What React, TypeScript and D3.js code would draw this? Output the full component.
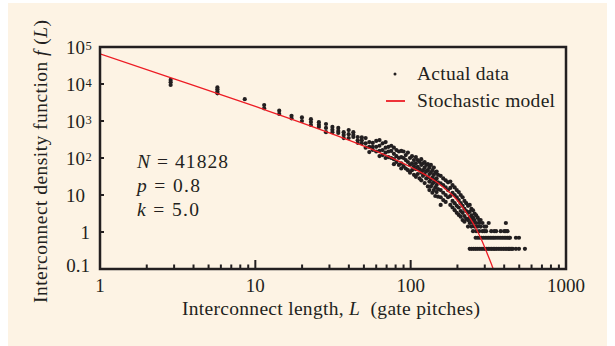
import React from "react";
import * as d3 from "d3";

const W = 615;
const H = 346;
const ink = "#231f20";
const red = "#ed1c24";
const cream = "#fdf3e4";
const font = "'Liberation Serif', 'Times New Roman', serif";

// axis ticks
const xMajor = [1, 10, 100, 1000];
const xMajorLabels = ["1", "10", "100", "1000"];
const yMajor = [1e5, 1e4, 1e3, 1e2, 10, 1, 0.1];
const yBase = ["10", "10", "10", "10", "10", "1", "0.1"];
const ySup = ["5", "4", "3", "2", "", "", ""];

// stochastic model curve
const modelL = [1, 3, 10, 30, 60, 100, 150, 200, 230, 250, 270, 290, 310, 330, 345];
const modelF = [65000, 13800, 2470, 478, 153, 57, 21, 7.1, 3.2, 1.84, 1.02, 0.54, 0.27, 0.14, 0.085];

// actual data: interconnect length L and the f(L) values seen at it
const dataColumns: [number, number[]][] = [
  [2.85, [12900, 11200, 9400]],
  [5.7, [8100, 7200, 6300, 5600]],
  [8.55, [3900]],
  [11.4, [2700, 2200]],
  [14.25, [1900, 1550]],
  [17.1, [1380, 1180]],
  [19.95, [1250, 1000]],
  [22.8, [1120, 940, 780]],
  [25.65, [930, 790, 690]],
  [28.5, [830, 650, 500]],
  [31.35, [690, 580, 500]],
  [34.2, [650, 540, 475]],
  [37.05, [500, 420, 345]],
  [39.9, [570, 440, 345]],
  [42.75, [500, 420, 370]],
  [45.6, [370, 300, 257]],
  [48.45, [360, 300, 250]],
  [51.3, [345, 250, 190]],
  [54.15, [270, 200, 145]],
  [57, [255, 200, 165]],
  [60, [290, 200, 150]],
  [63, [306, 214, 155, 113]],
  [66, [250, 164, 120]],
  [69, [270, 190, 140, 100]],
  [72, [200, 150, 106]],
  [75, [214, 155, 100]],
  [78, [190, 130, 93, 68]],
  [81, [164, 112, 78]],
  [84, [150, 100, 65]],
  [87, [155, 106, 72, 52]],
  [90, [150, 100, 60]],
  [93, [120, 88, 52]],
  [96, [140, 78, 47]],
  [99, [100, 65, 40]],
  [102, [112, 72, 47]],
  [105, [88, 60, 35]],
  [108, [106, 72, 50, 31]],
  [111, [88, 58, 37]],
  [114, [78, 50, 28]],
  [117, [93, 65, 40, 25]],
  [120, [72, 47, 33]],
  [123, [78, 55, 37, 21]],
  [126, [65, 44, 28]],
  [129, [68, 47, 30, 17]],
  [132, [55, 37, 23, 13.6]],
  [135, [65, 40, 26, 17]],
  [138, [47, 30, 20, 11.5]],
  [141, [55, 35, 22, 13.6]],
  [144, [40, 26, 16, 9.4]],
  [147, [43, 28, 18.6, 12]],
  [150, [35, 22, 14.5, 9]],
  [156, [33, 20.6, 13.6, 8.7, 5.4]],
  [162, [28, 18.6, 11.5, 7.3]],
  [168, [25, 16, 10, 6.5]],
  [174, [22, 13.6, 8.7]],
  [180, [23, 15.5, 9.4, 5.4]],
  [186, [18.6, 11.5, 6.9, 4.6]],
  [192, [16, 10, 6, 3.9]],
  [198, [13.6, 8.7, 5.1, 3.3]],
  [204, [12, 7.3, 4.6, 2.9]],
  [210, [10, 6, 3.7, 2.6]],
  [216, [8.7, 5.1, 3.3, 2.1]],
  [222, [6.9, 4.2, 2.7, 1.9]],
  [228, [6, 3.7, 2.3]],
  [234, [5.1, 3.3, 2.1, 1.4]],
  [240, [5.4, 3.5, 2.45, 1.75]],
  [246, [4.2, 2.8, 2.1, 1.4]],
  [252, [3.85, 2.45, 1.75, 1.05]],
  [258, [3.15, 2.1, 1.4]],
  [264, [2.8, 1.75, 1.05]],
  [270, [2.45, 1.4]],
  [276, [2.1, 1.75, 1.05]],
  [282, [2.1, 1.4]],
  [290, [1.75, 1.05]],
  [298, [1.4, 1.05]],
  [306, [1.4, 1.05]],
  [318, [1.75]],
  [330, [1.05]],
  [345, [1.05]],
  [355, [1.05]],
  [380, [1.05]],
  [400, [1.05]],
  [410, [1.75, 1.05]],
  [420, [1.05]],
];

// the two flat rows at the tail of the data
const rowTwoF = 0.7;
const rowTwoL = [262, 270, 278, 286, 294, 302, 310, 318, 326, 334, 342, 350, 360, 370, 380, 390, 400, 410, 420, 430, 436, 476, 498];
const rowOneF = 0.35;
const rowOneL = [240, 247, 254, 261, 268, 276, 284, 292, 300, 308, 316, 324, 332, 340, 348, 356, 366, 376, 386, 396, 406, 416, 426, 436, 446, 455, 476, 498, 544];

export default function App() {
  const x = d3.scaleLog().domain([1, 1000]).range([100, 566]);
  const y = d3.scaleLog().domain([0.1, 1e5]).range([269, 47]);

  const points: [number, number][] = [];
  dataColumns.forEach(([L, fs]) => fs.forEach((f) => points.push([L, f])));
  rowTwoL.forEach((L) => points.push([L, rowTwoF]));
  rowOneL.forEach((L) => points.push([L, rowOneF]));

  const xMinor = x.ticks().filter((t) => !xMajor.includes(t));

  const modelPath = d3
    .line<number>()
    .x((d) => x(d))
    .y((d, i) => y(modelF[i]))
    .curve(d3.curveMonotoneX)(modelL);

  const [x0, x1] = x.range();
  const [y0, y1] = y.range();

  return (
    <svg width={W} height={H} style={{ position: "absolute", left: 0, top: 0 }} fontFamily={font} fill={ink}>
      <defs>
        <clipPath id="plot">
          <rect x={x0} y={y1} width={x1 - x0} height={y0 - y1} />
        </clipPath>
      </defs>
      <rect x={8} y={3} width={599} height={343} fill={cream} />

      {/* data */}
      <g clipPath="url(#plot)">
        {points.map(([L, f], i) => (
          <circle key={i} cx={x(L)} cy={y(f)} r={2.1} fill={ink} />
        ))}
        <path d={modelPath || ""} fill="none" stroke={red} strokeWidth={1.3} />
      </g>

      {/* frame */}
      <rect x={x0} y={y1} width={x1 - x0} height={y0 - y1} fill="none" stroke={ink} strokeWidth={2.5} />

      {/* x ticks */}
      {xMajor.map((t) => (
        <line key={"xm" + t} x1={x(t)} x2={x(t)} y1={y0} y2={y0 - 9} stroke={ink} strokeWidth={2} />
      ))}
      {xMinor.map((t) => (
        <line key={"xn" + t} x1={x(t)} x2={x(t)} y1={y0} y2={y0 - 4.5} stroke={ink} strokeWidth={2} />
      ))}
      {xMajor.map((t, i) => (
        <text key={"xl" + t} x={x(t)} y={292} fontSize={19} textAnchor="middle">
          {xMajorLabels[i]}
        </text>
      ))}

      {/* y ticks */}
      {yMajor.map((t) => (
        <line key={"ym" + t} x1={x0} x2={x0 + 4} y1={y(t)} y2={y(t)} stroke={ink} strokeWidth={2} />
      ))}
      {yMajor.map((t, i) => {
        const short = yBase[i] !== "10";
        const yy = y(t) + (t === 0.1 ? 3 : 6.5);
        return (
          <text key={"yl" + t} x={short ? 90 : 85} y={yy} fontSize={19} textAnchor="end">
            {yBase[i]}
          </text>
        );
      })}
      {yMajor.map((t, i) =>
        ySup[i] ? (
          <text key={"ys" + t} x={85.5} y={y(t) + 3} fontSize={12.5}>
            {ySup[i]}
          </text>
        ) : null
      )}

      {/* axis titles */}
      <text x={182} y={315} fontSize={19.5} textLength={298} lengthAdjust="spacing">
        Interconnect length, <tspan fontStyle="italic">L</tspan>
        {"\u00a0\u00a0(gate pitches)"}
      </text>
      <text transform="translate(47,303) rotate(-90)" fontSize={19.5} textLength={283} lengthAdjust="spacing">
        Interconnect density function <tspan fontStyle="italic">f</tspan>
        {"\u00a0("}
        <tspan fontStyle="italic">L</tspan>)
      </text>

      {/* parameters */}
      <text x={137} y={168} fontSize={19.5} textLength={91} lengthAdjust="spacing">
        <tspan fontStyle="italic">N</tspan> = 41828
      </text>
      <text x={137} y={192} fontSize={19.5} textLength={63} lengthAdjust="spacing">
        <tspan fontStyle="italic">p</tspan> = 0.8
      </text>
      <text x={137} y={216} fontSize={19.5} textLength={62} lengthAdjust="spacing">
        <tspan fontStyle="italic">k</tspan> = 5.0
      </text>

      {/* legend */}
      <circle cx={395} cy={74} r={1.5} fill={ink} />
      <text x={417} y={80} fontSize={19.5} textLength={92} lengthAdjust="spacing">
        Actual data
      </text>
      <line x1={386} x2={405} y1={101} y2={101} stroke={red} strokeWidth={1.8} />
      <text x={417} y={107} fontSize={19.5} textLength={138} lengthAdjust="spacing">
        Stochastic model
      </text>
    </svg>
  );
}
